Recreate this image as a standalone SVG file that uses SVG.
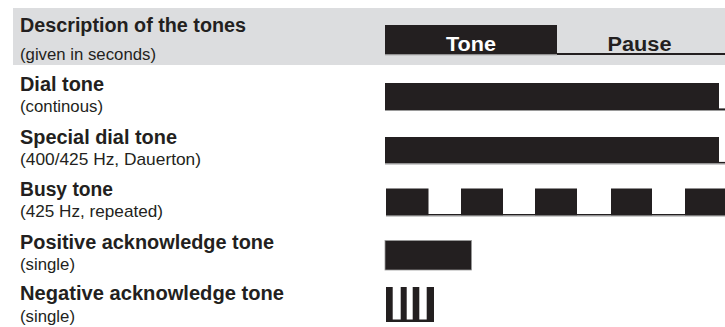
<svg xmlns="http://www.w3.org/2000/svg" width="725" height="327" viewBox="0 0 725 327">
<style>
.h{font-family:"Liberation Sans",Arial,sans-serif;font-weight:bold;font-size:19.5px;fill:#231f20}
.s{font-family:"Liberation Sans",Arial,sans-serif;font-size:17px;fill:#231f20}
.w{font-family:"Liberation Sans",Arial,sans-serif;font-weight:bold;font-size:19.5px;fill:#ffffff}
.bar{fill:#231f20}
.edge{stroke:#9a9a9a;stroke-width:1;fill:none}
.base{stroke:#231f20;stroke-width:1.6;fill:none}
</style>
<rect x="0" y="0" width="725" height="327" fill="#ffffff"/>
<g id="header">
<rect x="13" y="8" width="712" height="57" fill="#dcdddf"/>
<text class="h" x="20" y="32" textLength="226" lengthAdjust="spacingAndGlyphs">Description of the tones</text>
<text class="s" x="20" y="59.5" textLength="136" lengthAdjust="spacingAndGlyphs">(given in seconds)</text>
<rect class="bar" x="385" y="25" width="172" height="29.5"/>
<line x1="385" y1="54.8" x2="557" y2="54.8" class="edge"/>
<line x1="557" y1="54" x2="725" y2="54" stroke="#231f20" stroke-width="2"/>
<text class="w" x="471" y="51" text-anchor="middle" textLength="50" lengthAdjust="spacingAndGlyphs">Tone</text>
<text class="h" x="639.5" y="51" text-anchor="middle" textLength="64" lengthAdjust="spacingAndGlyphs">Pause</text>
</g>
<g id="dial-tone">
<text class="h" x="20" y="91" textLength="84" lengthAdjust="spacingAndGlyphs">Dial tone</text>
<text class="s" x="20" y="112" textLength="83" lengthAdjust="spacingAndGlyphs">(continous)</text>
<rect class="bar" x="385" y="83" width="334" height="27"/>
<line x1="719" y1="109.2" x2="725" y2="109.2" class="base"/>
<line x1="385" y1="110.5" x2="725" y2="110.5" class="edge"/>
</g>
<g id="special-dial-tone">
<text class="h" x="20" y="143.5" textLength="157" lengthAdjust="spacingAndGlyphs">Special dial tone</text>
<text class="s" x="20" y="165" textLength="181" lengthAdjust="spacingAndGlyphs">(400/425 Hz, Dauerton)</text>
<rect class="bar" x="385" y="137" width="334" height="26.5"/>
<line x1="719" y1="162.7" x2="725" y2="162.7" class="base"/>
<line x1="385" y1="164" x2="725" y2="164" class="edge"/>
</g>
<g id="busy-tone">
<text class="h" x="20" y="196" textLength="93" lengthAdjust="spacingAndGlyphs">Busy tone</text>
<text class="s" x="20" y="217" textLength="143" lengthAdjust="spacingAndGlyphs">(425 Hz, repeated)</text>
<rect class="bar" x="386" y="188.5" width="42.5" height="27"/>
<rect class="bar" x="461" y="188.5" width="42" height="27"/>
<rect class="bar" x="535" y="188.5" width="42" height="27"/>
<rect class="bar" x="611" y="188.5" width="41" height="27"/>
<rect class="bar" x="685" y="188.5" width="40" height="27"/>
<line x1="386" y1="214.8" x2="725" y2="214.8" class="base"/>
<line x1="386" y1="216" x2="725" y2="216" class="edge"/>
</g>
<g id="positive-acknowledge-tone">
<text class="h" x="20" y="248.5" textLength="254" lengthAdjust="spacingAndGlyphs">Positive acknowledge tone</text>
<text class="s" x="20" y="270" textLength="55" lengthAdjust="spacingAndGlyphs">(single)</text>
<rect class="bar" x="385" y="240.5" width="86.5" height="29.5" stroke="#9a9a9a" stroke-width="0.8"/>
</g>
<g id="negative-acknowledge-tone">
<text class="h" x="20" y="300" textLength="264" lengthAdjust="spacingAndGlyphs">Negative acknowledge tone</text>
<text class="s" x="20" y="321.5" textLength="55" lengthAdjust="spacingAndGlyphs">(single)</text>
<rect class="bar" x="386" y="287" width="6.7" height="35"/>
<rect class="bar" x="400.7" y="287" width="6" height="35"/>
<rect class="bar" x="412.7" y="287" width="6.6" height="35"/>
<rect class="bar" x="426.7" y="287" width="7.3" height="35"/>
<rect class="bar" x="386" y="319.5" width="48" height="2.5"/>
</g>
</svg>
